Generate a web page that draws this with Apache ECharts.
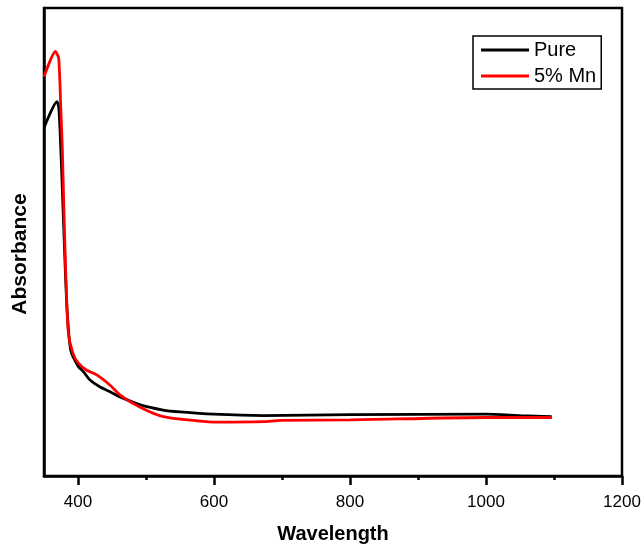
<!DOCTYPE html>
<html>
<head>
<meta charset="utf-8">
<script src="https://cdn.jsdelivr.net/npm/echarts@6/dist/echarts.min.js"></script>
<style>
html,body{margin:0;padding:0;background:#fff;}
#c{width:641px;height:547px;}
</style>
</head>
<body>
<div id="c"></div>
<script>
// Wavelength (nm) and absorbance (arbitrary units, 0-100 of plot height)
const pureX = [350, 369, 371.6, 373.6, 376.5, 380.2, 383.9, 389.3, 400.5, 407.9, 417.7, 432.5, 447.2, 462, 491.4, 525.3, 550.3, 598.9, 672.5, 800.7, 1001, 1051, 1096.7];
const pureY = [74.4, 80.0, 78.9, 73.9, 63.2, 48.3, 35.5, 26.9, 23.4, 22.3, 20.5, 19.0, 18.0, 16.9, 15.2, 14.1, 13.7, 13.2, 12.9, 13.1, 13.2, 12.9, 12.7];
const mnX = [350, 366.6, 371.6, 374.6, 377, 379.5, 382.5, 385.8, 392.3, 400.5, 412.9, 427.6, 447.2, 462, 491.4, 525.3, 574.9, 604.3, 672.5, 697.6, 800.7, 1001, 1096.7];
const mnY = [85.3, 90.7, 89.3, 78.9, 69.7, 55.4, 41.2, 30.6, 26.3, 24.1, 22.6, 21.6, 19.4, 17.3, 14.7, 12.7, 11.8, 11.5, 11.6, 11.9, 12.0, 12.5, 12.5];
const seriesNames = ['Pure', '5% Mn'];
const majorTicks = [400, 600, 800, 1000, 1200];
const minorTicks = [500, 700, 900, 1100];

const zip = (xs, ys) => xs.map((x, i) => [x, ys[i]]);
const FONT = '"Liberation Sans", Arial, sans-serif';

const chart = echarts.init(document.getElementById('c'), null, {renderer: 'canvas'});
chart.setOption({
  animation: false,
  backgroundColor: '#fff',
  grid: {left: 44, right: 19, top: 8, bottom: 71, outerBoundsMode: 'none', containLabel: false,
         show: true, borderColor: '#000', borderWidth: 2.5, backgroundColor: 'transparent'},
  legend: {
    orient: 'vertical', left: 473, top: 36,
    padding: [4, 5, 3, 8],
    borderColor: '#000', borderWidth: 1.5,
    itemWidth: 48, itemHeight: 3, itemGap: 6,
    icon: 'rect',
    textStyle: {fontFamily: FONT, fontSize: 20, color: '#000'},
    data: seriesNames
  },
  xAxis: [{
    type: 'value', min: 350, max: 1200,
    name: 'Wavelength', nameLocation: 'middle', nameGap: 48,
    nameTextStyle: {fontFamily: FONT, fontSize: 20, fontWeight: 'bold', color: '#000'},
    axisLine: {show: true, onZero: false, lineStyle: {color: '#000', width: 2.5}},
    axisTick: {show: true, inside: false, length: 9, customValues: majorTicks, lineStyle: {color: '#000', width: 2.5}},
    axisLabel: {show: true, margin: 18, customValues: majorTicks, formatter: v => String(v), fontFamily: FONT, fontSize: 17, color: '#000'},
    splitLine: {show: false}
  }, {
    type: 'value', min: 350, max: 1200, position: 'bottom',
    axisLine: {show: false},
    axisTick: {show: true, inside: false, length: 4, customValues: minorTicks, lineStyle: {color: '#000', width: 2.5}},
    axisLabel: {show: false},
    splitLine: {show: false}
  }],
  yAxis: {
    type: 'value', min: 0, max: 100,
    name: 'Absorbance', nameLocation: 'middle', nameGap: 13,
    nameTextStyle: {fontFamily: FONT, fontSize: 21, fontWeight: 'bold', color: '#000', padding: [0, 24, 0, 0]},
    axisLine: {show: true, lineStyle: {color: '#000', width: 2.5}},
    axisTick: {show: false},
    axisLabel: {show: false},
    splitLine: {show: false}
  },
  series: [{
    name: seriesNames[0], type: 'line', showSymbol: false, symbol: 'none',
    data: zip(pureX, pureY), smooth: 0.2,
    lineStyle: {color: '#000', width: 2.8}, itemStyle: {color: '#000'}
  }, {
    name: seriesNames[1], type: 'line', showSymbol: false, symbol: 'none',
    data: zip(mnX, mnY), smooth: 0.2,
    lineStyle: {color: '#ff0000', width: 2.8}, itemStyle: {color: '#ff0000'}
  }]
});
</script>
</body>
</html>
